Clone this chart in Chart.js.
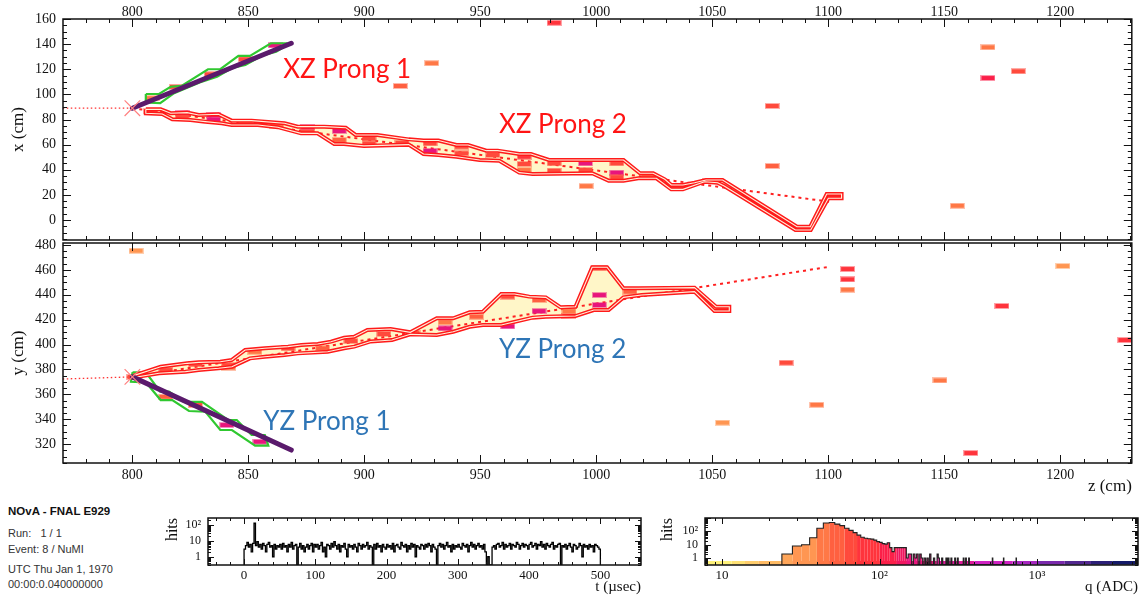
<!DOCTYPE html>
<html>
<head>
<meta charset="utf-8">
<script src="https://cdn.jsdelivr.net/npm/chart.js@4.4.0/dist/chart.umd.min.js"></script>
<style>
  body { margin: 0; background: #fff; width: 1144px; height: 603px; position: relative; overflow: hidden; font-family: "Liberation Sans", Arial, sans-serif; }
  canvas { position: absolute; }
  #cXZ { left: 0; top: 0; }
  #cYZ { left: 0; top: 222px; }
  #cT { left: 150px; top: 505px; }
  #cQ { left: 650px; top: 505px; }
  .info { position: absolute; left: 8px; font-size: 11px; color: #333; white-space: pre; line-height: 12px; }
  .info.b { font-weight: bold; color: #111; font-size: 11.5px; }
</style>
</head>
<body>
<canvas id="cXZ" width="1144" height="262"></canvas>
<canvas id="cYZ" width="1144" height="278"></canvas>
<canvas id="cT" width="495" height="95"></canvas>
<canvas id="cQ" width="494" height="95"></canvas>
<div class="info b" style="top:505px">NOvA - FNAL E929</div>
<div class="info" style="top:527px">Run:   1 / 1</div>
<div class="info" style="top:543px">Event: 8 / NuMI</div>
<div class="info" style="top:563px">UTC Thu Jan 1, 1970</div>
<div class="info" style="top:578px">00:00:0.040000000</div>
<script>
// ---- XZ view (z, x in cm) ----
const xzProng1Upper = [[805.8,100.3],[811.5,100.3],[816.5,106.1],[821.2,106.7],[832.6,120],[837.9,120],[845.7,130.6],[850.7,130.6],[859.7,140.7],[866.4,140.7]];
const xzProng1Lower = [[805.8,93.5],[812,93],[818,101],[822.6,104.5],[829,109.5],[836.5,114],[843,121],[848.7,123.5],[856,131],[862,134],[866.4,139]];
const xzProng1Track = [[800,89],[868.5,140.7]];
const xzProng2Upper = [[805.8,88.1],[812.2,88.1],[816.5,85],[823.6,85.5],[828.6,83.6],[837.1,84.2],[842.8,79.1],[851.4,79.1],[865.6,77],[871.3,74.3],[882.7,74.3],[892,73.5],[896.2,67.7],[905.6,67.7],[919.1,64.2],[925.5,63.3],[931.9,63.3],[939.7,59.7],[944.7,59.7],[952.6,55.2],[957.5,55.2],[966.8,52.5],[971.8,52.5],[979.6,47.8],[1011.7,47.8],[1018.8,37.2],[1024.5,37.2],[1029.5,32.4],[1032.3,27.9],[1037.3,27.9],[1042.3,29.7],[1047.3,31.8],[1054.4,31.8],[1086.5,-5.3],[1092.2,-5.3],[1099.3,20.7],[1105.7,20.7]];
const xzProng2Lower = [[805.8,85],[812.9,84.4],[817.2,80.2],[825,79.6],[831.4,78.3],[838.5,77],[842.8,75.6],[854.1,75.6],[862.7,73.9],[872.7,69],[879.8,69],[887,60.5],[891.2,60.5],[899.8,59],[919.1,60],[925.5,52.5],[931.9,51.8],[939.7,50.4],[949.7,47.8],[958.2,47.2],[966.8,37.7],[972.5,36.6],[998.2,37.2],[1005.3,31.3],[1011.7,31.3],[1018.1,33.2],[1025.9,33.2],[1032.3,24.4],[1037.3,24.4],[1046.6,30.5],[1052.3,29.7],[1055.1,27.1],[1085.8,-8],[1092.4,-8],[1100,17.3],[1105.7,17.3]];
const xzProng2Dir = [[800,89],[1100.4,14.6]];
const xzBeam = [[770,89],[800,89]];
const xzVertex = [[800,89]];
// hits: [z, x, q(ADC)]
const xzHits = [
  [808.5,97,40],[819,106,60],[834,116,70],[848.7,128,65],[861.5,139,150],
  [808,86.8,70],[821.5,85,200],[821.5,82,70],[835,83.6,200],[835,80,150],[848.7,77.3,45],[862.2,75,45],
  [875.6,73.8,200],[875.6,70.3,70],[889.2,70.9,200],[889.2,63.7,55],[902,65,70],[902,61,60],[916.2,61.5,70],
  [928.3,61,70],[928.3,55,200],[941.9,58.4,70],[941.9,53.1,70],[955.4,51.8,70],[968.9,50.4,80],[968.9,44.6,70],
  [968.9,39.8,45],[981.8,45.1,70],[981.8,39.3,70],[995.3,45.1,200],[995.3,39.8,70],[1008.8,45.1,70],
  [1008.8,37.7,200],[1008.8,34,70],[1022.4,35.3,50],[1035.2,27,70],[1048.7,31,70],[1089,-6.4,55],[1102.5,19,75],
  [981.8,157,80],[929,124.8,45],[915.5,106.7,55],[995.6,27,40],[1075.8,90.8,70],[1075.8,43,55],
  [1168.8,137.5,42],[1168.8,113,110],[1181.9,118.4,70],[1155.6,11.4,40]
];
const xzLabels = [['XZ Prong 1', 865, 113, '#ff1414'], ['XZ Prong 2', 958, 69.3, '#ff1414']];

// ---- YZ view (z, y in cm) ----
const yzProng1Upper = [[800.1,377.7],[805.8,377.7],[812,362.1],[815.8,362.1],[822.2,354],[830,354],[841.4,339.3],[845,339.3],[851.4,327.3],[857.1,327.3]];
const yzProng1Lower = [[799.4,370.1],[805.8,369.6],[812.2,355.4],[817.2,355.4],[824.4,346.6],[831.5,346],[837.9,331.3],[842.9,331.3],[852.9,318.7],[858.6,318.7]];
const yzProng1Track = [[800,374],[868.5,315.2]];
const yzProng2Upper = [[800.5,375],[812.2,382.2],[823.6,384.9],[828.6,385.7],[837.9,386.2],[842.9,387.6],[848.6,395.6],[857.1,397],[867.1,398.3],[872.8,399.6],[879.9,400.4],[885.6,402.3],[891.3,405.5],[895.6,406.3],[901.3,411.7],[911.3,412.5],[919.8,409.8],[931.2,421.1],[938.3,421.1],[945.4,425.9],[951.1,426.4],[959,440.6],[964.7,440.6],[971.1,438.5],[978.2,437.9],[984.6,429.9],[991,430.4],[998.2,462.1],[1004.6,462.1],[1011.7,445.2],[1018.1,445.2],[1042.3,445.7],[1051.6,430.4],[1057.3,430.4]];
const yzProng2Lower = [[800.5,373.5],[811.5,376.9],[822.9,378.2],[828.6,379.5],[837.2,380.9],[842.9,382.2],[850.7,388.9],[857.1,390.2],[865.6,391.6],[871.3,392.9],[884.2,394.2],[891.3,397],[895.6,398.3],[902.7,402.5],[911.9,403.6],[919.8,408.2],[931.2,407.7],[938.3,410.3],[945.4,414.3],[951.1,415.7],[959,415.7],[972.5,421.6],[978.2,422.4],[991,422.9],[998.9,427.7],[1005.3,427.7],[1011.7,437.9],[1019.5,439.8],[1042.3,442.5],[1050.9,426.9],[1057.3,426.9]];
const yzProng2Dir = [[800,374],[1100.7,462.6]];
const yzBeam = [[770,372.3],[800,374]];
const yzVertex = [[800,374]];
const yzHits = [
  [800.7,374,60],[814.4,358,50],[827.2,351.4,60],[840.7,335.3,200],[855,321.9,200],
  [814.4,379.5,70],[827.2,384.1,65],[841.5,383.5,60],[852.8,394.2,45],[867.1,397,60],[882,397,50],
  [894.2,402.8,70],[908.4,408.5,60],[921,409,50],[934.8,417.9,45],[934.8,413,200],[948.3,422.4,55],
  [961.8,438.5,60],[961.8,414.6,200],[975.3,435.8,55],[975.3,426.9,200],[988.2,426.9,45],[988.2,422.9,70],
  [1001.3,461.3,60],[1001.3,439.8,200],[1001.3,431.8,200],[1014.5,442.5,50],[1040.9,443,45],[1054.4,429,55],
  [801.6,475.4,38],[841.5,381.4,40],[1054.4,337.2,32],[1108.3,460.7,80],[1108.3,452.4,80],[1108.3,444.1,45],
  [1081.8,385.4,70],[1095,351.6,42],[1148.1,371.2,42],[1161.4,312.8,80],[1174.8,431,75],[1201.1,463.1,33],
  [1227.8,403.6,80]
];
const yzLabels = [['YZ Prong 2', 958, 389.2, '#2e75b6'], ['YZ Prong 1', 856.4, 331.3, '#2e75b6']];

// ---- timing histogram: hits per 2 usec bin from t = 0 ----
const tStart = 0, tWidth = 2;
const tTicks = [0, 100, 200, 300, 400, 500];
const tCounts = [
  3,5,8,4,6,2,7,130,5,9,4,6,3,7,5,2,6,8,4,5,1,6,3,5,4,
  6,3,7,4,5,2,6,4,8,3,5,6,0,4,7,3,5,2,4,6,3,5,7,2,6,
  4,6,3,5,8,2,4,1,6,5,3,7,4,9,5,3,6,2,5,4,7,3,1,6,4,
  5,3,6,4,2,7,5,3,6,4,5,8,3,5,4,0,6,3,7,4,5,2,6,4,3,
  6,4,5,3,7,2,5,6,4,3,8,5,4,6,2,5,3,7,4,6,1,5,4,3,6,
  5,3,6,4,7,5,2,6,4,3,0,5,7,4,6,3,5,8,4,5,2,6,3,5,4,
  6,4,3,7,5,4,6,2,5,8,4,6,3,5,7,4,5,3,6,2,0,1,0,0,4,
  5,3,6,7,4,5,8,3,6,4,5,7,3,6,5,4,8,6,3,5,7,4,6,5,3,
  6,8,4,5,7,3,6,5,9,4,6,3,7,5,4,6,8,3,5,4,6,7,0,5,4,
  6,3,5,7,4,2,6,5,3,4,7,5,1,6,4,5,3,6,4,5,2,6,5,4,3
];

// ---- charge histogram: 4 ADC bins from q = 24, then isolated bins ----
const qStart = 24, qWidth = 4;
const qCounts = [2,8,10,33,170,420,460,350,270,170,118,80,52,36,30,28,26,22,17,15,12,11,14,6,3,6,6,6,6,6,6,1,2,2,0,2,1,2,0,2,1,0,1];
const qSparse = [[200,1],[208,2],[220,1],[232,2],[236,1],[248,1],[264,1],[272,1],[284,1],[300,1],[312,1],[340,1],[352,1],[368,1],[520,1],[612,1],[736,1]];

// charge colour scale (ADC lower edge, colour)
const palette = [[0,'#fff27a'],[11.5,'#ffe174'],[14,'#ffcd6c'],[17,'#ffbb64'],[23.5,'#ffa65a'],[28,'#ff9652'],[40,'#ff7846'],[48,'#ff6040'],[60,'#ff4a3c'],[72,'#ff343c'],[100,'#fb2049'],[128,'#f01860'],[150,'#e8157c'],[230,'#de1a9a'],[400,'#cf22c2'],[700,'#a626bf'],[1000,'#7a2aac'],[1500,'#52288f'],[2200,'#2c2078'],[3000,'#141a68']];

const serif = '"Liberation Serif", "Times New Roman", serif';
const zMin = 770.1, zMax = 1230.8;

function qColor(q) {
  let c = palette[0][1];
  palette.forEach(([lo, col]) => { if (q >= lo) c = col; });
  return c;
}

const hitImgs = {};
function hitImage(color) {
  if (!hitImgs[color]) {
    const c = document.createElement('canvas');
    c.width = 15; c.height = 6;
    const g = c.getContext('2d');
    g.fillStyle = color;
    g.globalAlpha = 0.45; g.fillRect(0, 0, 15, 6);
    g.globalAlpha = 1; g.fillRect(1, 1, 13, 4);
    hitImgs[color] = c;
  }
  return hitImgs[color];
}

const pts = arr => arr.map(([x, y]) => ({x, y}));

function fixBox(size) {
  return s => {
    if (s.isHorizontal()) s.height = size; else s.width = size;
    s.paddingTop = s.paddingBottom = s.paddingLeft = s.paddingRight = 0;
  };
}

function tickList(scale, step) {
  const out = [];
  if (scale.type === 'logarithmic') {
    for (let d = Math.floor(Math.log10(scale.min)); d <= Math.ceil(Math.log10(scale.max)); d++) {
      for (let s = 1; s < 10; s++) {
        const v = s * Math.pow(10, d);
        if (v >= scale.min && v <= scale.max) out.push({v, major: s === 1});
      }
    }
    return out;
  }
  const majors = scale.ticks.map(t => t.value);
  for (let i = Math.ceil(scale.min / step); i * step <= scale.max; i++) {
    const v = i * step;
    out.push({v, major: majors.some(m => Math.abs(m - v) < 1e-6)});
  }
  return out;
}

// ROOT style frame with inward ticks on all four sides
const frame = {
  id: 'frame',
  afterDraw(chart, args, o) {
    const {ctx, chartArea: a} = chart;
    const xs = chart.scales.x, ys = chart.scales.y;
    ctx.save();
    ctx.strokeStyle = '#111';
    ctx.lineWidth = 1;
    ctx.beginPath();
    tickList(xs, o.xMinor).forEach(t => {
      const p = Math.round(xs.getPixelForValue(t.v)) + 0.5;
      const len = t.major ? o.major : o.minor;
      ctx.moveTo(p, a.bottom); ctx.lineTo(p, a.bottom - len);
      ctx.moveTo(p, a.top); ctx.lineTo(p, a.top + len);
    });
    tickList(ys, o.yMinor).forEach(t => {
      const p = Math.round(ys.getPixelForValue(t.v)) + 0.5;
      const len = t.major ? o.major : o.minor;
      ctx.moveTo(a.left, p); ctx.lineTo(a.left + len, p);
      ctx.moveTo(a.right, p); ctx.lineTo(a.right - len, p);
    });
    ctx.stroke();
    ctx.lineWidth = 1.5;
    ctx.strokeRect(a.left, a.top, a.right - a.left, a.bottom - a.top);
    ctx.restore();
  }
};

const prongLabels = {
  id: 'prongLabels',
  afterDatasetsDraw(chart, args, o) {
    if (!o.items) return;
    const {ctx} = chart;
    ctx.save();
    ctx.font = '26px Lato';
    ctx.textBaseline = 'alphabetic';
    o.items.forEach(([txt, zv, v, col]) => {
      ctx.fillStyle = col;
      ctx.fillText(txt, chart.scales.x.getPixelForValue(zv), chart.scales.y.getPixelForValue(v));
    });
    ctx.restore();
  }
};

function prongSets(upper, lower, edge, fillColor, inner, width) {
  const poly = pts(upper.concat(lower.slice().reverse()));
  poly.push(poly[0]);
  const sets = [];
  if (fillColor) sets.push({data: poly, fill: 'shape', backgroundColor: fillColor, borderWidth: 0, pointRadius: 0, order: 6});
  sets.push({data: poly, borderColor: edge, borderWidth: width, pointRadius: 0, fill: false, order: 3});
  if (inner) sets.push({data: poly, borderColor: inner, borderWidth: 1.1, pointRadius: 0, fill: false, order: 2.9});
  return sets;
}

function viewSets(v) {
  return [
    ...prongSets(v.p2u, v.p2l, '#ff1a1a', '#fff6c8', '#fff0dc', 4),
    ...prongSets(v.p1u, v.p1l, '#30c830', null, null, 2.2),
    {data: pts(v.dir), borderColor: '#ff2020', borderWidth: 2, borderDash: [3, 4], pointRadius: 0, fill: false, order: 5},
    {data: pts(v.beam), borderColor: '#ff3030', borderWidth: 1.3, borderDash: [1.5, 2.5], pointRadius: 0, fill: false, order: 5},
    {data: v.hits.map(([x, y, q]) => ({x, y, q})), showLine: false, pointRadius: 7,
     pointStyle: c => hitImage(qColor(c.raw.q)), order: 4},
    {data: pts(v.track), borderColor: '#5a1a6c', borderWidth: 5, borderCapStyle: 'round', pointRadius: 0, fill: false, order: 1},
    {data: pts(v.vertex), showLine: false, pointStyle: 'crossRot', pointRadius: 11, pointBorderColor: '#ff8080', pointBorderWidth: 1.2, order: 0.5}
  ];
}

function viewChart(id, v, o) {
  return new Chart(document.getElementById(id), {
    type: 'line',
    data: {datasets: viewSets(v)},
    options: {
      responsive: false, animation: false, events: [],
      layout: {padding: o.padding},
      plugins: {legend: {display: false}, tooltip: {enabled: false},
        frame: {xMinor: 10, yMinor: 5, major: 8, minor: 4},
        prongLabels: {items: v.labels}},
      scales: {
        x: {type: 'linear', position: o.xPos, min: zMin, max: zMax,
          grid: {display: false, drawTicks: false}, border: {display: false},
          ticks: {stepSize: 50, includeBounds: false, autoSkip: false, maxRotation: 0, padding: o.xPad,
            color: '#111', font: {family: serif, size: 14}, callback: val => String(val)},
          title: o.xTitle, afterFit: fixBox(o.xHeight)},
        y: {type: 'linear', min: o.yMin, max: o.yMax,
          grid: {display: false, drawTicks: false}, border: {display: false},
          ticks: {stepSize: 20, includeBounds: false, autoSkip: false, padding: 7,
            color: '#111', font: {family: serif, size: 14}, callback: val => String(val)},
          title: {display: true, text: o.yTitle, color: '#111', font: {family: serif, size: 17}, padding: {top: 8, bottom: 0}},
          afterFit: fixBox(63)}
      }
    },
    plugins: [frame, prongLabels]
  });
}

viewChart('cXZ', {p1u: xzProng1Upper, p1l: xzProng1Lower, track: xzProng1Track, p2u: xzProng2Upper, p2l: xzProng2Lower,
  dir: xzProng2Dir, beam: xzBeam, vertex: xzVertex, hits: xzHits, labels: xzLabels},
  {padding: {left: 0, right: 3, top: 0, bottom: 22}, xPos: 'top', xPad: -2, xHeight: 19, xTitle: {display: false},
   yMin: -15.9, yMax: 160, yTitle: 'x (cm)'});

viewChart('cYZ', {p1u: yzProng1Upper, p1l: yzProng1Lower, track: yzProng1Track, p2u: yzProng2Upper, p2l: yzProng2Lower,
  dir: yzProng2Dir, beam: yzBeam, vertex: yzVertex, hits: yzHits, labels: yzLabels},
  {padding: {left: 0, right: 3, top: 21, bottom: 0}, xPos: 'bottom', xPad: 4, xHeight: 37,
   xTitle: {display: true, text: 'z (cm)', align: 'end', color: '#111', font: {family: serif, size: 17}, padding: {top: 0, bottom: 3}},
   yMin: 304.8, yMax: 481.6, yTitle: 'y (cm)'});

// ---- small histograms ----
const powLabel = v => ({1: '1', 10: '10', 100: '10\u00b2', 1000: '10\u00b3'}[v] || '');

function histOptions(o) {
  return {
    responsive: false, animation: false, events: [],
    layout: {padding: {left: 0, right: o.right, top: 13, bottom: 0}},
    plugins: {legend: {display: false}, tooltip: {enabled: false},
      frame: {xMinor: o.xMinor, major: 6, minor: 3}},
    scales: {
      x: {type: o.xType, min: o.xMin, max: o.xMax, grid: {display: false, drawTicks: false}, border: {display: false},
        afterBuildTicks: o.xTicks ? s => { s.ticks = o.xTicks.map(value => ({value})); } : undefined,
        ticks: {autoSkip: false, maxRotation: 0, padding: 3,
          color: '#111', font: {family: serif, size: 13}, callback: o.xLabel},
        title: {display: true, text: o.xTitle, align: 'end', color: '#111', font: {family: serif, size: 15}, padding: {top: 0, bottom: 4}},
        afterFit: fixBox(35)},
      y: {type: 'logarithmic', min: o.yMin, max: o.yMax, grid: {display: false, drawTicks: false}, border: {display: false},
        ticks: {autoSkip: false, padding: 7, color: '#111', font: {family: serif, size: 12},
          callback: v => (v === 1 || v === 10 || v === 100) ? powLabel(v) : ''},
        title: {display: true, text: 'hits', align: 'end', color: '#111', font: {family: serif, size: 16}, padding: {top: o.titlePad, bottom: 0}},
        afterFit: fixBox(o.yWidth)}
    }
  };
}

// timing
const tMinY = 0.3;
const tLine = [{x: tStart, y: tMinY}];
tCounts.forEach((n, i) => tLine.push({x: tStart + i * tWidth, y: n || tMinY}));
tLine.push({x: tStart + tCounts.length * tWidth, y: tMinY});
new Chart(document.getElementById('cT'), {
  type: 'line',
  data: {datasets: [{data: tLine, stepped: true, borderColor: '#000', borderWidth: 1.3, pointRadius: 0, fill: false}]},
  options: histOptions({right: 4, xType: 'linear', xMin: -50.6, xMax: 557, xTicks: tTicks, xMinor: 20,
    xLabel: v => String(v), xTitle: 't (\u00b5sec)', yMin: tMinY, yMax: 280, yWidth: 58, titlePad: 13}),
  plugins: [frame]
});

// charge
const qMinY = 0.31, qBandTop = 0.6, qMinX = 7.8, qMaxX = 4375;
const qBins = [];
qCounts.forEach((n, i) => { if (n > 0) qBins.push([qStart + i * qWidth, qStart + (i + 1) * qWidth, n]); });
qSparse.forEach(([q, n]) => qBins.push([q, q + qWidth, n]));
const rectPts = (a, b, lo, hi) => [{x: a, y: lo}, {x: a, y: hi}, {x: b, y: hi}, {x: b, y: lo}, {x: a, y: lo}];
const qSets = [];
palette.forEach(([lo, col], i) => {
  const a = Math.max(lo, qMinX), b = Math.min(i + 1 < palette.length ? palette[i + 1][0] : qMaxX, qMaxX);
  if (b > a) qSets.push({data: rectPts(a, b, qMinY, qBandTop), fill: 'shape', backgroundColor: col, borderWidth: 0, pointRadius: 0, order: 3});
});
qBins.forEach(([a, b, n]) => {
  qSets.push({data: rectPts(a, b, qMinY, n), fill: 'shape', backgroundColor: qColor((a + b) / 2), borderWidth: 0, pointRadius: 0, order: 2});
});
const qLine = [];
qBins.forEach(([a, b, n], i) => {
  const prev = qBins[i - 1], next = qBins[i + 1];
  if (!prev || prev[1] !== a) qLine.push({x: a, y: qMinY});
  qLine.push({x: a, y: n});
  if (!next || next[0] !== b) qLine.push({x: b, y: qMinY});
});
qSets.push({data: qLine, stepped: true, borderColor: '#222', borderWidth: 1.1, pointRadius: 0, fill: false, order: 1});
new Chart(document.getElementById('cQ'), {
  type: 'line',
  data: {datasets: qSets},
  options: histOptions({right: 6, xType: 'logarithmic', xMin: qMinX, xMax: qMaxX, xMinor: 0,
    xLabel: v => powLabel(v), xTitle: 'q (ADC)', yMin: qMinY, yMax: 1000, yWidth: 55, titlePad: 8}),
  plugins: [frame]
});
</script>
</body>
</html>
